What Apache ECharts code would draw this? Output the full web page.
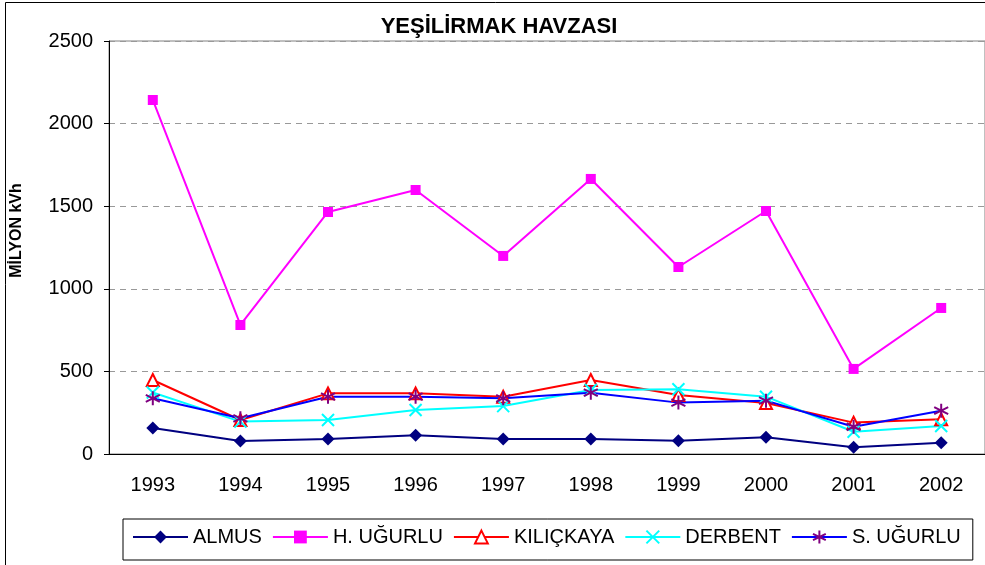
<!DOCTYPE html>
<html>
<head>
<meta charset="utf-8">
<script src="https://cdn.jsdelivr.net/npm/echarts@6/dist/echarts.min.js"></script>
<style>
html, body { margin: 0; padding: 0; background: #fff; }
#chart { width: 985px; height: 565px; }
</style>
</head>
<body>
<div id="chart"></div>
<script>
var years = ['1993', '1994', '1995', '1996', '1997', '1998', '1999', '2000', '2001', '2002'];
var almus = [158, 79, 91, 114, 91, 91, 80, 102, 41, 68];
var hUgurlu = [2143, 781, 1465, 1598, 1199, 1665, 1132, 1471, 515, 884];
var kilickaya = [448, 206, 367, 367, 347, 448, 357, 309, 190, 210];
var derbent = [372, 196, 206, 266, 290, 387, 392, 347, 135, 169];
var sUgurlu = [337, 216, 347, 347, 337, 371, 311, 323, 165, 262];

var font = 'Liberation Sans, Arial, sans-serif';
var crossPath = 'path://M0 0L10 10M10 0L0 10';
var starPath = 'path://M5 0L5 10M0.7 2.5L9.3 7.5M9.3 2.5L0.7 7.5';

function line(name, data, color, symbol, size, extra) {
    var s = {
        name: name,
        type: 'line',
        data: data,
        symbol: symbol,
        symbolSize: size,
        animation: false,
        lineStyle: { color: color, width: 2 },
        itemStyle: { color: color }
    };
    for (var k in extra) s[k] = extra[k];
    return s;
}

var chart = echarts.init(document.getElementById('chart'));
chart.setOption({
    backgroundColor: '#fff',
    title: {
        text: 'YEŞİLİRMAK HAVZASI',
        left: 494,
        textAlign: 'center',
        top: 11,
        textStyle: { fontFamily: font, fontWeight: 'bold', fontSize: 22, color: '#000' }
    },
    graphic: [{
        type: 'rect',
        shape: { x: 5.5, y: 2.5, width: 1000, height: 600 },
        style: { fill: 'none', stroke: '#000', lineWidth: 1 },
        silent: true
    }],
    legend: {
        left: 123,
        top: 519,
        padding: [8, 12, 13, 9],
        borderColor: '#000',
        borderWidth: 1,
        itemWidth: 55,
        itemHeight: 16,
        itemGap: 10,
        textStyle: { fontFamily: font, fontSize: 20, color: '#000' },
        data: ['ALMUS', 'H. UĞURLU', 'KILIÇKAYA', 'DERBENT', 'S. UĞURLU']
    },
    grid: {
        left: 109,
        right: -5,
        top: 41,
        bottom: 111,
        show: true,
        borderColor: '#808080',
        borderWidth: 1
    },
    xAxis: {
        type: 'category',
        data: years,
        boundaryGap: true,
        axisLine: { lineStyle: { color: '#000', width: 1 } },
        axisTick: { length: 5, lineStyle: { color: '#000' } },
        axisLabel: { margin: 21, fontFamily: font, fontSize: 20, color: '#000' }
    },
    yAxis: {
        type: 'value',
        min: 0,
        max: 2500,
        interval: 500,
        name: 'MİLYON kVh',
        nameLocation: 'middle',
        nameGap: 84,
        nameRotate: 90,
        nameTextStyle: {
            fontFamily: font, fontWeight: 'bold', fontSize: 16, color: '#000',
            padding: [0, 0, 0, 34]
        },
        axisLine: { show: true, lineStyle: { color: '#000', width: 1 } },
        axisTick: { show: true, length: 5, lineStyle: { color: '#000' } },
        axisLabel: {
            margin: 16, fontFamily: font, fontSize: 20, color: '#000',
            formatter: function (v) { return String(v); }
        },
        splitLine: { lineStyle: { color: '#999', type: [6, 5], width: 1 } }
    },
    series: [
        line('ALMUS', almus, '#000080', 'diamond', 13),
        line('H. UĞURLU', hUgurlu, '#ff00ff', 'rect', 10),
        line('KILIÇKAYA', kilickaya, '#ff0000', 'emptyTriangle', 12, {
            itemStyle: { color: '#ff0000', borderWidth: 1.5 }
        }),
        line('DERBENT', derbent, '#00ffff', crossPath, 12, {
            itemStyle: { color: '#00ffff', borderColor: '#00ffff', borderWidth: 2 }
        }),
        line('S. UĞURLU', sUgurlu, '#0000ff', starPath, 14, {
            itemStyle: { color: '#800080', borderColor: '#800080', borderWidth: 2 }
        })
    ]
});
</script>
</body>
</html>
